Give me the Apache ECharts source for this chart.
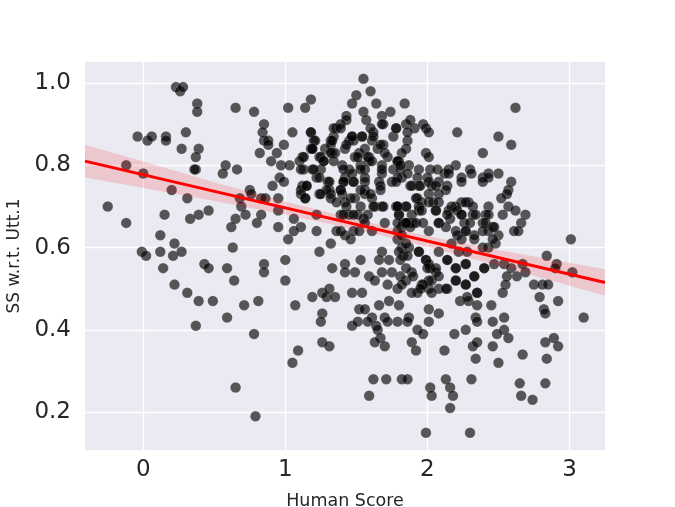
<!DOCTYPE html>
<html>
<head>
<meta charset="utf-8">
<script src="https://cdn.jsdelivr.net/npm/echarts@6/dist/echarts.min.js"></script>
<style>
    html, body { margin: 0; padding: 0; background: #fff; }
    #chart { width: 675px; height: 507px; }
</style>
</head>
<body>
<div id="chart"></div>
<script>
    // [human score, SS w.r.t. Utt.1]
    const scatterPoints = [
        [0.23,0.99],[0.26,0.98],[0.28,0.99],[0.38,0.95],[0.38,0.93],[0.65,0.94],[0.78,0.93],[0.85,0.90],[0.84,0.88],[0.85,0.86],
        [-0.04,0.87],[0.03,0.86],[0.06,0.87],[0.16,0.87],[0.16,0.86],[0.30,0.88],[0.27,0.84],[0.39,0.84],[0.37,0.82],[0.37,0.79],
        [0.36,0.79],[0.58,0.80],[0.56,0.78],[0.66,0.79],[0.82,0.83],[-0.12,0.80],[0.00,0.78],[0.20,0.74],[0.75,0.74],
        [-0.25,0.70],[-0.12,0.66],[0.31,0.72],[0.15,0.68],[0.33,0.67],[0.39,0.68],[0.46,0.69],[0.68,0.72],[0.76,0.73],[0.83,0.72],
        [0.69,0.70],[0.65,0.67],[0.62,0.65],[0.72,0.68],[0.80,0.66],[0.83,0.68],[0.12,0.63],[0.22,0.61],[-0.01,0.59],[0.02,0.58],
        [0.12,0.59],[0.21,0.58],[0.27,0.59],[0.14,0.55],[0.43,0.56],[0.46,0.55],[0.63,0.60],[0.59,0.55],[0.64,0.52],[0.85,0.56],
        [0.85,0.54],[0.22,0.51],[0.31,0.49],[0.39,0.47],[0.49,0.47],[0.71,0.46],[0.81,0.47],[0.59,0.43],
        [0.37,0.41],[0.78,0.39],[0.65,0.26],[0.79,0.19],
        [1.55,1.01],[1.60,0.98],[1.50,0.97],[1.47,0.95],[1.64,0.95],[1.18,0.96],[1.14,0.94],[1.02,0.94],[1.84,0.95],[1.74,0.93],
        [1.55,0.93],[1.68,0.92],[1.69,0.90],[1.57,0.91],[1.43,0.92],[1.43,0.91],[1.39,0.90],[1.36,0.89],[1.34,0.87],[1.32,0.86],
        [1.05,0.88],[1.18,0.88],[0.88,0.86],[0.88,0.85],[0.99,0.85],[0.94,0.83],[0.90,0.81],[0.97,0.80],[1.03,0.80],[0.96,0.77],
        [0.99,0.76],[0.91,0.75],[1.20,0.86],[1.18,0.84],[1.19,0.84],[1.12,0.82],[1.10,0.81],[1.13,0.79],[1.19,0.79],[1.24,0.82],
        [1.27,0.81],[1.25,0.79],[1.22,0.77],[1.30,0.76],[1.12,0.75],[1.15,0.75],[1.28,0.84],[1.33,0.83],[1.32,0.85],[1.35,0.83],
        [1.42,0.84],[1.45,0.86],[1.48,0.86],[1.47,0.87],[1.40,0.80],[1.45,0.79],[1.42,0.77],[1.41,0.76],[1.48,0.76],[1.49,0.82],
        [1.52,0.83],[1.54,0.87],[1.56,0.84],[1.59,0.82],[1.59,0.81],[1.53,0.80],[1.56,0.79],[1.56,0.77],[1.62,0.88],[1.61,0.86],
        [1.65,0.84],[1.69,0.85],[1.72,0.82],[1.68,0.80],[1.68,0.78],[1.66,0.76],[1.67,0.75],[1.76,0.87],[1.78,0.89],[1.85,0.90],
        [1.88,0.91],[1.86,0.86],[1.85,0.84],[1.82,0.83],[1.79,0.81],[1.80,0.81],[1.87,0.80],[1.76,0.79],[1.81,0.79],[1.82,0.77],
        [1.79,0.77],[1.75,0.76],[1.91,0.89],[1.97,0.90],[1.99,0.89],[2.01,0.88],[1.99,0.83],[2.01,0.82],[1.94,0.79],[2.02,0.79],
        [2.07,0.79],[2.12,0.78],[1.93,0.77],[2.00,0.77],[2.08,0.76],[1.88,0.75],[1.94,0.75],[2.03,0.75],[1.11,0.74],[1.31,0.74],
        [1.39,0.74],[1.56,0.74],
        [0.86,0.72],[0.95,0.72],[0.95,0.69],[0.95,0.65],[1.06,0.67],[1.11,0.65],[1.06,0.64],[1.02,0.62],[1.11,0.73],[1.14,0.72],
        [1.24,0.73],[1.32,0.73],[1.22,0.68],[1.22,0.64],[1.24,0.59],[1.32,0.61],[1.40,0.73],[1.42,0.71],[1.39,0.68],[1.36,0.64],
        [1.39,0.64],[1.42,0.63],[1.46,0.62],[1.48,0.64],[1.45,0.68],[1.51,0.68],[1.55,0.67],[1.56,0.66],[1.49,0.72],[1.56,0.73],
        [1.61,0.72],[1.63,0.70],[1.68,0.70],[1.61,0.64],[1.52,0.64],[1.78,0.70],[1.85,0.70],[1.80,0.68],[1.83,0.66],[1.87,0.66],
        [1.90,0.66],[1.94,0.69],[1.96,0.71],[1.93,0.72],[2.01,0.71],[2.06,0.69],[2.08,0.66],[2.01,0.64],[1.79,0.62],[1.82,0.60],
        [1.87,0.60],[1.83,0.58],[1.68,0.59],[1.66,0.57],[1.73,0.57],[1.75,0.54],[1.68,0.54],[1.59,0.53],[1.49,0.54],[1.53,0.57],
        [1.42,0.56],[1.42,0.54],[1.33,0.55],[1.63,0.52],[1.72,0.51],[1.79,0.50],[1.85,0.52],[1.89,0.54],[1.94,0.59],[1.99,0.57],
        [2.02,0.55],[2.06,0.54],[2.03,0.52],[1.96,0.51],[2.01,0.50],[2.08,0.50],[1.93,0.49],[1.00,0.57],[1.00,0.52],[1.19,0.48],
        [1.26,0.49],[1.29,0.48],[1.35,0.48],[1.31,0.50],[1.47,0.49],[1.54,0.49],[1.07,0.46],[1.26,0.44],[1.52,0.45],[1.56,0.45],
        [1.66,0.46],[1.73,0.47],[1.80,0.46],[1.87,0.43],[2.01,0.45],[2.08,0.44],[1.70,0.43],[1.61,0.43],
        [1.25,0.42],[1.47,0.41],[1.51,0.42],[1.58,0.42],[1.64,0.41],[1.65,0.40],[1.67,0.38],[1.63,0.37],[1.70,0.36],[1.72,0.42],
        [1.79,0.42],[1.86,0.42],[1.93,0.40],[1.97,0.39],[2.01,0.42],[1.89,0.37],[1.92,0.35],[2.12,0.35],[1.26,0.37],[1.31,0.36],
        [1.09,0.35],[1.05,0.32],[1.62,0.28],[1.71,0.28],[1.82,0.28],[1.86,0.28],[1.59,0.24],[2.02,0.26],[2.03,0.24],[1.99,0.15],
        [2.13,0.28],
        [2.62,0.94],[2.21,0.88],[2.50,0.87],[2.59,0.85],[2.39,0.83],[2.20,0.80],[2.15,0.79],[2.15,0.78],[2.30,0.79],[2.31,0.78],
        [2.24,0.77],[2.39,0.77],[2.43,0.78],[2.43,0.77],[2.50,0.78],[2.59,0.76],[2.57,0.74],[2.14,0.75],
        [2.56,0.73],[2.52,0.72],[2.57,0.70],[2.62,0.69],[2.69,0.68],[2.53,0.68],[2.66,0.66],[2.61,0.64],[2.64,0.64],[2.43,0.70],
        [2.41,0.68],[2.39,0.66],[2.46,0.65],[2.43,0.64],[2.50,0.63],[2.48,0.61],[2.43,0.60],[2.39,0.60],[2.29,0.71],[2.24,0.71],
        [2.20,0.70],[2.15,0.69],[2.24,0.68],[2.32,0.68],[2.16,0.67],[2.26,0.66],[2.20,0.64],[2.27,0.64],[2.33,0.62],[2.17,0.61],
        [2.22,0.59],[2.28,0.59],[2.27,0.56],[2.14,0.57],[2.20,0.55],[2.40,0.55],[2.47,0.56],[2.54,0.56],[2.59,0.55],[2.67,0.56],
        [2.63,0.53],[2.69,0.54],[2.56,0.53],[2.33,0.53],[2.20,0.52],[2.27,0.51],[2.14,0.50],[2.55,0.51],[2.53,0.49],[2.75,0.51],
        [2.81,0.51],[2.85,0.51],[2.84,0.58],[2.91,0.56],[2.90,0.55],[3.02,0.54],[3.01,0.62],[2.35,0.49],[2.29,0.47],[2.23,0.47],
        [2.35,0.46],[2.45,0.46],[2.79,0.48],[2.92,0.47],[2.82,0.45],[2.83,0.44],[2.54,0.43],[3.10,0.43],[2.34,0.43],
        [2.19,0.39],[2.27,0.40],[2.35,0.42],[2.46,0.42],[2.54,0.40],[2.49,0.39],[2.57,0.38],[2.32,0.36],[2.35,0.37],[2.46,0.36],
        [2.34,0.33],[2.50,0.32],[2.67,0.34],[2.83,0.37],[2.89,0.38],[2.92,0.36],[2.84,0.33],[2.31,0.28],[2.16,0.26],[2.18,0.24],
        [2.16,0.21],[2.65,0.27],[2.66,0.24],[2.74,0.23],[2.83,0.27],[2.30,0.15],
        [1.89,0.75],[1.95,0.75],[2.01,0.76],[2.06,0.75],[2.13,0.74],[2.24,0.76],[2.39,0.76],[2.01,0.73],[2.08,0.73],[2.04,0.71],
        [2.08,0.71],[1.92,0.72],[1.94,0.70],[1.96,0.69],[2.06,0.69],[1.89,0.68],[1.79,0.70],[1.85,0.70],[1.80,0.68],[2.17,0.70],
        [2.21,0.69],[2.27,0.71],[2.32,0.70],[2.24,0.68],[2.34,0.68],[2.30,0.66],[2.43,0.68],[2.41,0.66],[2.47,0.65],[2.08,0.66],
        [2.13,0.65],[2.14,0.68],[1.85,0.66],[1.92,0.66],[1.97,0.66],[1.82,0.65],[1.88,0.65],[1.79,0.64],[2.21,0.63],[2.27,0.64],
        [2.33,0.63],[2.24,0.62],[2.39,0.64],[2.46,0.62],[1.82,0.63],[1.85,0.61],[1.80,0.59],[1.81,0.57],[1.86,0.58],[1.94,0.59],
        [1.99,0.57],[2.01,0.56],[2.00,0.55],[2.06,0.55],[2.08,0.59],[2.14,0.57],[2.20,0.55],[2.27,0.56],[2.40,0.55],[1.85,0.55],
        [1.81,0.53],[1.90,0.53],[2.01,0.52],[1.97,0.51],[2.08,0.53],[2.13,0.50],[2.20,0.52],[2.27,0.51],[2.33,0.53],[1.82,0.51],
        [1.89,0.49],[1.95,0.50],[2.35,0.49],[2.28,0.48],[2.03,0.49],
        [1.18,0.88],[1.21,0.86],[1.19,0.84],[1.13,0.82],[1.11,0.79],[1.15,0.75],[1.14,0.72],[1.25,0.82],[1.27,0.81],[1.32,0.83],
        [1.34,0.81],[1.20,0.79],[1.24,0.77],[1.31,0.76],[1.29,0.74],[1.25,0.73],[1.32,0.72],[1.34,0.89],[1.39,0.89],[1.33,0.86],
        [1.43,0.85],[1.47,0.87],[1.54,0.87],[1.60,0.89],[1.62,0.87],[1.68,0.90],[1.78,0.89],[1.86,0.88],[1.51,0.82],[1.58,0.82],
        [1.61,0.81],[1.67,0.85],[1.70,0.83],[1.79,0.81],[1.81,0.80],[1.41,0.79],[1.47,0.78],[1.53,0.79],[1.68,0.79],[1.41,0.76],
        [1.48,0.76],[1.56,0.76],[1.67,0.74],[1.78,0.76],[1.86,0.78],[1.39,0.74],[1.46,0.72],[1.53,0.74],[1.60,0.73],[1.62,0.70],
        [1.69,0.70],[1.79,0.70],[1.43,0.70],[1.53,0.70],[1.36,0.71],[1.41,0.68],[1.48,0.68],[1.58,0.68],[1.70,0.66],[1.79,0.66],
        [1.85,0.66]
    ];

    // regression line ends
    const fitX = [-0.41, 3.25];
    const fitY = [0.81, 0.515];

    // confidence band
    const bandX     = [-0.41, 0,     0.5,   1.0,   1.5,   2.0,   2.5,   3.0,   3.25];
    const bandUpper = [0.85,  0.809, 0.759, 0.712, 0.668, 0.628, 0.594, 0.563, 0.547];
    const bandLower = [0.77,  0.745, 0.713, 0.68,  0.644, 0.602, 0.556, 0.507, 0.483];

    const xTicks = [0, 1, 2, 3];
    const yTicks = [0.2, 0.4, 0.6, 0.8, 1.0];

    const textColor = '#262626';
    const fontFamily = 'DejaVu Sans';

    let chart = echarts.init(document.getElementById('chart'));
    let option = {
        backgroundColor: '#ffffff',
        animation: false,
        grid: {
            left: 85,
            right: 70,
            top: 62,
            bottom: 57,
            show: true,
            backgroundColor: '#EAEAF2',
            borderWidth: 0,
            outerBoundsMode: 'none',
            containLabel: false
        },
        xAxis: {
            type: 'value',
            min: -0.41,
            max: 3.25,
            minInterval: 1,
            maxInterval: 1,
            axisLine: { show: false },
            axisTick: { show: false },
            splitLine: {
                showMinLine: false,
                showMaxLine: false,
                lineStyle: { color: '#ffffff', width: 1.3 }
            },
            axisLabel: {
                fontSize: 23,
                color: textColor,
                fontFamily: fontFamily,
                margin: 9,
                formatter: function (v) {
                    return xTicks.some(t => Math.abs(t - v) < 1e-6) ? String(Math.round(v)) : '';
                }
            },
            name: 'Human Score',
            nameLocation: 'middle',
            nameGap: 42,
            nameTextStyle: { fontSize: 17.5, color: textColor, fontFamily: fontFamily }
        },
        yAxis: {
            type: 'value',
            min: 0.108,
            max: 1.051,
            minInterval: 0.2,
            maxInterval: 0.2,
            axisLine: { show: false },
            axisTick: { show: false },
            splitLine: {
                showMinLine: false,
                showMaxLine: false,
                lineStyle: { color: '#ffffff', width: 1.3 }
            },
            axisLabel: {
                fontSize: 23,
                color: textColor,
                fontFamily: fontFamily,
                margin: 14,
                formatter: function (v) {
                    return yTicks.some(t => Math.abs(t - v) < 1e-6) ? v.toFixed(1) : '';
                }
            },
            name: 'SS w.r.t. Utt.1',
            nameLocation: 'middle',
            nameGap: 57,
            nameTextStyle: { fontSize: 17, color: textColor, fontFamily: fontFamily }
        },
        series: [
            {
                type: 'scatter',
                data: scatterPoints,
                symbolSize: 10.5,
                itemStyle: {
                    color: 'rgba(0,0,0,0.8)',
                    borderColor: 'rgba(255,255,255,0.25)',
                    borderWidth: 0.8
                },
                z: 2,
                silent: true
            },
            {
                type: 'custom',
                data: [[bandX[0], bandUpper[0]]],
                clip: true,
                silent: true,
                z: 3,
                renderItem: function (params, api) {
                    let pts = [];
                    for (let i = 0; i < bandX.length; i++) {
                        pts.push(api.coord([bandX[i], bandUpper[i]]));
                    }
                    for (let i = bandX.length - 1; i >= 0; i--) {
                        pts.push(api.coord([bandX[i], bandLower[i]]));
                    }
                    return {
                        type: 'polygon',
                        shape: { points: pts },
                        style: { fill: 'rgba(255,0,0,0.15)' }
                    };
                }
            },
            {
                type: 'line',
                data: fitX.map((x, i) => [x, fitY[i]]),
                showSymbol: false,
                lineStyle: { color: '#ff0000', width: 3 },
                z: 4,
                silent: true
            }
        ]
    };
    chart.setOption(option, true);
    window.addEventListener('resize', function () {
        chart.resize();
    });
</script>
</body>
</html>
